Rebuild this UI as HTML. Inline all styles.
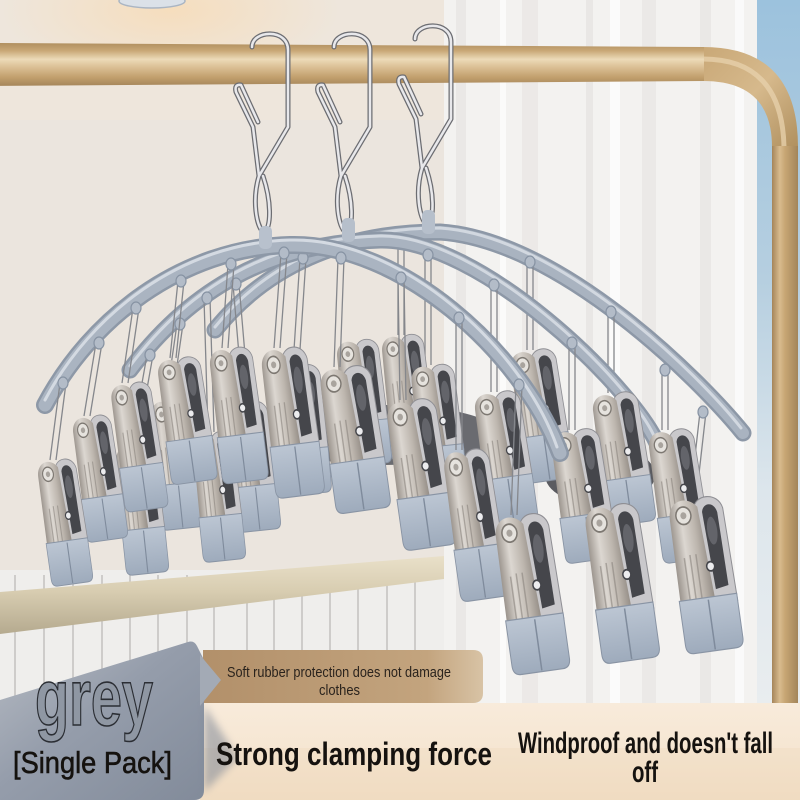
<!DOCTYPE html>
<html><head><meta charset="utf-8"><style>html,body{margin:0;padding:0;background:#ebe5de}svg{display:block}</style></head>
<body>
<svg width="800" height="800" viewBox="0 0 800 800" xmlns="http://www.w3.org/2000/svg">
<defs>
<linearGradient id="silv" x1="0" x2="1" y1="0" y2="0"><stop offset="0" stop-color="#9a938c"/><stop offset=".35" stop-color="#dcd7d1"/><stop offset=".7" stop-color="#bdb6ae"/><stop offset="1" stop-color="#958e87"/></linearGradient>
<linearGradient id="tipg" x1="0" y1="0" x2="0" y2="1"><stop offset="0" stop-color="#bcc6d3"/><stop offset="1" stop-color="#9eabbc"/></linearGradient>
<linearGradient id="sky" x1="0" y1="0" x2="0" y2="1"><stop offset="0" stop-color="#9cc2dd"/><stop offset=".4" stop-color="#b6cfe0"/><stop offset=".7" stop-color="#dde6ec"/><stop offset="1" stop-color="#e9edef"/></linearGradient>
<linearGradient id="bar" x1="0" y1="0" x2="0" y2="1"><stop offset="0" stop-color="#e9e0c9"/><stop offset=".45" stop-color="#d8cdb1"/><stop offset="1" stop-color="#b5aa8f"/></linearGradient>
<linearGradient id="rodh" x1="0" y1="0" x2="0" y2="1"><stop offset="0" stop-color="#b08f5f"/><stop offset=".18" stop-color="#c9a877"/><stop offset=".38" stop-color="#ecdab8"/><stop offset=".55" stop-color="#dcc197"/><stop offset=".8" stop-color="#c19f6d"/><stop offset="1" stop-color="#a5855a"/></linearGradient>
<linearGradient id="rodv" x1="0" y1="0" x2="1" y2="0"><stop offset="0" stop-color="#a5855a"/><stop offset=".3" stop-color="#d8bb8e"/><stop offset=".5" stop-color="#c7a674"/><stop offset="1" stop-color="#a3855a"/></linearGradient>
<linearGradient id="rodc" x1="0" y1="0" x2="1" y2="1"><stop offset="0" stop-color="#c9a877"/><stop offset=".5" stop-color="#d6b98c"/><stop offset="1" stop-color="#b0905f"/></linearGradient>
<linearGradient id="cream" x1="0" y1="0" x2="0" y2="1"><stop offset="0" stop-color="#f8ebdb"/><stop offset=".5" stop-color="#f6e6d2"/><stop offset="1" stop-color="#f1dcc2"/></linearGradient>
<linearGradient id="greyb" x1="0" y1="0" x2="1" y2="1"><stop offset="0" stop-color="#b6bbc3"/><stop offset=".45" stop-color="#959dab"/><stop offset="1" stop-color="#828b9a"/></linearGradient>
<linearGradient id="ban" x1="0" y1="0" x2="1" y2="0"><stop offset="0" stop-color="#b2906a"/><stop offset=".8" stop-color="#c3a47e"/><stop offset="1" stop-color="#d8c3a5"/></linearGradient>
<radialGradient id="glow" cx="0.5" cy="0.5" r="0.5"><stop offset="0" stop-color="#f7dcb8" stop-opacity=".85"/><stop offset="1" stop-color="#f7dcb8" stop-opacity="0"/></radialGradient>
<filter id="bl" x="-20%" y="-20%" width="140%" height="140%"><feGaussianBlur stdDeviation="4"/></filter>
<g id="clip">
  <path d="M0,10 C2,-3 26,-3 29,12 L31,92 L2,92 Z" fill="#c9c8cb" stroke="#8f8f94" stroke-width="1"/>
  <path d="M8,13 C10,5 21,5 23,15 L24,78 L11,80 Z" fill="#45464b"/>
  <ellipse cx="15.5" cy="30" rx="5" ry="12" fill="#63646a"/>
  <path d="M-25,16 C-25,0 -6,-4 4,8 L9,90 L-26,92 Z" fill="url(#silv)"/>
  <circle cx="-11" cy="14" r="7.5" fill="#e6e3de" stroke="#7d7872" stroke-width="1.5"/>
  <circle cx="-11" cy="14" r="3" fill="#a9a49e"/>
  <path d="M-16,50 L-16,88 M-10,48 L-10,88 M-4,48 L-4,88" stroke="#8b857f" stroke-width="1.5" opacity=".6"/>
  <circle cx="9" cy="60" r="4" fill="#ececee" stroke="#44454a" stroke-width="1.5"/>
  <path d="M-27,86 L31,86 L31,124 Q31,132 23,132 L-19,132 Q-27,132 -27,124 Z" fill="url(#tipg)" stroke="#8994a4" stroke-width="1"/>
  <path d="M2,88 L2,131" stroke="#7f8b9c" stroke-width="1.5"/>
</g>
<g id="hook">
  <path d="M252,47 C252,30 288,28 288,50 L288,127 L259,176 M259,176 C252,200 256,226 264,233 C272,226 271,200 263,176 M259,176 L253,127 L236,92 Q234,84 241,85 L258,122" fill="none" stroke="#6c6d72" stroke-width="5" stroke-linecap="round" stroke-linejoin="round"/>
  <path d="M252,47 C252,30 288,28 288,50 L288,127 L259,176 M259,176 C252,200 256,226 264,233 C272,226 271,200 263,176 M259,176 L253,127 L236,92 Q234,84 241,85 L258,122" fill="none" stroke="#e8e8eb" stroke-width="2.5" stroke-linecap="round" stroke-linejoin="round"/>
</g>
</defs>

<rect width="800" height="800" fill="#ebe5de"/>
<rect x="0" y="0" width="444" height="120" fill="#eee6dc"/>
<ellipse cx="170" cy="10" rx="170" ry="70" fill="url(#glow)"/>
<ellipse cx="152" cy="1" rx="33" ry="7" fill="#dbe1e8" stroke="#aab5c3" stroke-width="1.5"/>
<rect x="444" y="0" width="313" height="703" fill="#f3f2f0"/>
<rect x="456" y="0" width="10" height="703" fill="#e6e4e1" opacity=".7"/>
<rect x="500" y="0" width="6" height="703" fill="#fbfbfa"/>
<rect x="522" y="0" width="16" height="703" fill="#e8e6e3" opacity=".7"/>
<rect x="586" y="0" width="7" height="703" fill="#e4e2df" opacity=".7"/>
<rect x="610" y="0" width="10" height="703" fill="#fbfbfb"/>
<rect x="642" y="0" width="14" height="703" fill="#e7e5e2" opacity=".7"/>
<rect x="700" y="0" width="11" height="703" fill="#e6e4e1" opacity=".7"/>
<rect x="735" y="0" width="9" height="703" fill="#fafafa"/>
<rect x="757" y="0" width="43" height="703" fill="url(#sky)"/>

<rect x="0" y="570" width="444" height="133" fill="#efeeec"/>
<g stroke="#c6c4c1" stroke-width="1.6">
<path d="M15,575 V703 M44,575 V703 M73,575 V703 M102,575 V703 M130,575 V703 M158,575 V703 M187,575 V703 M214,575 V703 M247,575 V703 M274,575 V703 M302,575 V703 M330,575 V703 M358,575 V703 M387,575 V703 M415,575 V703"/>
</g>
<polygon points="0,592 444,556 444,579 0,634" fill="url(#bar)"/>

<!-- gold rod -->
<path d="M703,47 Q798,47 798,147 L772,147 Q772,81 703,81 Z" fill="url(#rodc)"/>
<path d="M703,59 Q782,59 784,147" fill="none" stroke="#e6d0aa" stroke-width="5" opacity=".8"/>
<rect x="772" y="146" width="26" height="559" fill="url(#rodv)"/>
<polygon points="-10,43 704,47 704,81 -10,86" fill="url(#rodh)"/>

<use href="#hook"/>
<use href="#hook" transform="translate(82,0)"/>
<use href="#hook" transform="translate(163,-8)"/>

<g fill="none" stroke-linecap="round">
<path d="M215,330 C265,268 340,232 440,232 C560,240 700,380 743,433" stroke="#8d98a7" stroke-width="17"/>
<path d="M215,330 C265,268 340,232 440,232 C560,240 700,380 743,433" stroke="#a9b3c0" stroke-width="12"/>
<path d="M215,327 C265,265 340,228 440,228 C560,236 700,376 741,428" stroke="#d2d8e0" stroke-width="3"/>
</g>
<rect x="422" y="210" width="13" height="24" rx="5" fill="#b6bfcb"/>
<g stroke="#85878c" stroke-width="1.3" fill="none">
<path d="M527,262 V350 M533,262 V350 M608,312 V393 M614,312 V393 M662,372 V430 M668,372 V430 M700,412 L690,500 M706,412 L696,500 M398,240 V335 M404,240 V335"/>
</g>
<g fill="#b3bcc8" stroke="#8793a3" stroke-width="1.2">
<ellipse cx="530" cy="262" rx="5" ry="6"/><ellipse cx="611" cy="312" rx="5" ry="6"/><ellipse cx="665" cy="370" rx="5" ry="6"/><ellipse cx="703" cy="412" rx="5" ry="6"/><ellipse cx="401" cy="240" rx="5" ry="6"/>
</g>

<g fill="none" stroke-linecap="round">
<path d="M130,370 C190,290 270,243 380,240 C480,238 630,385 657,443" stroke="#8d98a7" stroke-width="17"/>
<path d="M130,370 C190,290 270,243 380,240 C480,238 630,385 657,443" stroke="#a9b3c0" stroke-width="12"/>
<path d="M130,366 C190,286 270,239 380,236 C480,234 630,381 655,438" stroke="#d2d8e0" stroke-width="3"/>
</g>
<rect x="342" y="218" width="13" height="24" rx="5" fill="#b6bfcb"/>

<ellipse cx="385" cy="435" rx="115" ry="30" fill="#6a6b70"/>
<ellipse cx="600" cy="475" rx="55" ry="30" fill="#5a5b60"/>

<g stroke="#85878c" stroke-width="1.3" fill="none">
<path d="M147,355 L131,445 M153,355 L137,445 M177,324 L166,400 M183,324 L172,400 M204,298 L208,432 M210,298 L214,432 M233,284 L243,402 M239,284 L249,402 M300,258 L293,365 M306,258 L299,365 M425,255 V365 M431,255 V365 M491,285 V392 M497,285 V392 M569,343 V430 M575,343 V430 M631,411 L606,505 M637,411 L612,505"/>
</g>
<g fill="#b3bcc8" stroke="#8793a3" stroke-width="1.2">
<ellipse cx="150" cy="355" rx="5" ry="6"/><ellipse cx="180" cy="324" rx="5" ry="6"/><ellipse cx="207" cy="298" rx="5" ry="6"/><ellipse cx="236" cy="284" rx="5" ry="6"/><ellipse cx="303" cy="258" rx="5" ry="6"/><ellipse cx="428" cy="255" rx="5" ry="6"/><ellipse cx="494" cy="285" rx="5" ry="6"/><ellipse cx="572" cy="343" rx="5" ry="6"/><ellipse cx="634" cy="411" rx="5" ry="6"/>
</g>

<use href="#clip" transform="translate(400,335) rotate(-6) scale(.78,.95)"/>
<use href="#clip" transform="translate(530,350) rotate(-8) scale(.85,1)"/>
<use href="#clip" transform="translate(612,393) rotate(-8) scale(.85,1)"/>
<use href="#clip" transform="translate(668,430) rotate(-8) scale(.85,1)"/>
<use href="#clip" transform="translate(355,340) rotate(-6) scale(.78,.95)"/>
<use href="#clip" transform="translate(430,365) rotate(-6) scale(.8,.95)"/>
<use href="#clip" transform="translate(494,392) rotate(-8) scale(.85,1)"/>
<use href="#clip" transform="translate(572,430) rotate(-8) scale(.9,1)"/>
<use href="#clip" transform="translate(296,365) rotate(-5) scale(.8,.98)"/>
<use href="#clip" transform="translate(245,402) rotate(-6) scale(.74,.98)"/>
<use href="#clip" transform="translate(168,400) rotate(-6) scale(.74,.98)"/>
<use href="#clip" transform="translate(210,432) rotate(-6) scale(.74,.98)"/>
<use href="#clip" transform="translate(133,445) rotate(-6) scale(.74,.98)"/>
<use href="#clip" transform="translate(608,505) rotate(-8) scale(1,1.19)"/>
<use href="#clip" transform="translate(692,498) rotate(-8) scale(1,1.17)"/>

<g fill="none" stroke-linecap="round">
<path d="M45,405 C90,320 180,248 290,245 C400,242 522,352 560,453" stroke="#8d98a7" stroke-width="18"/>
<path d="M45,405 C90,320 180,248 290,245 C400,242 522,352 560,453" stroke="#aab4c1" stroke-width="13"/>
<path d="M45,400 C90,315 180,243 290,240 C400,237 522,347 557,447" stroke="#d4dae2" stroke-width="3"/>
</g>
<rect x="259" y="226" width="13" height="23" rx="5" fill="#b8c1cd"/>
<g stroke="#85878c" stroke-width="1.3" fill="none">
<path d="M60,383 L50,460 M66,383 L56,460 M96,343 L84,416 M102,343 L90,416 M133,308 L122,383 M139,308 L128,383 M178,281 L170,358 M184,281 L176,358 M228,264 L222,348 M234,264 L228,348 M281,253 L274,348 M287,253 L280,348 M338,258 L334,367 M344,258 L340,367 M398,278 L400,400 M404,278 L406,400 M456,318 V450 M462,318 V450 M516,385 L511,515 M522,385 L517,515"/>
</g>
<g fill="#b3bcc8" stroke="#8793a3" stroke-width="1.2">
<ellipse cx="63" cy="383" rx="5" ry="6"/><ellipse cx="99" cy="343" rx="5" ry="6"/><ellipse cx="136" cy="308" rx="5" ry="6"/><ellipse cx="181" cy="281" rx="5" ry="6"/><ellipse cx="231" cy="264" rx="5" ry="6"/><ellipse cx="284" cy="253" rx="5" ry="6"/><ellipse cx="341" cy="258" rx="5" ry="6"/><ellipse cx="401" cy="278" rx="5" ry="6"/><ellipse cx="459" cy="318" rx="5" ry="6"/><ellipse cx="519" cy="385" rx="5" ry="6"/>
</g>

<use href="#clip" transform="translate(281,348) rotate(-7) scale(.85,1.13)"/>
<use href="#clip" transform="translate(228,348) rotate(-7) scale(.8,1.02)"/>
<use href="#clip" transform="translate(342,367) rotate(-8) scale(.95,1.1)"/>
<use href="#clip" transform="translate(176,358) rotate(-8) scale(.8,.95)"/>
<use href="#clip" transform="translate(408,400) rotate(-8) scale(.92,1.13)"/>
<use href="#clip" transform="translate(128,383) rotate(-8) scale(.75,.97)"/>
<use href="#clip" transform="translate(463,450) rotate(-8) scale(.85,1.14)"/>
<use href="#clip" transform="translate(89,416) rotate(-8) scale(.72,.95)"/>
<use href="#clip" transform="translate(518,515) rotate(-8) scale(1,1.2)"/>
<use href="#clip" transform="translate(54,460) rotate(-8) scale(.72,.95)"/>

<rect x="200" y="703" width="600" height="97" fill="url(#cream)"/>
<rect x="200" y="748" width="600" height="52" fill="#f0dbc0" opacity=".45"/>
<path d="M203,650 L473,650 Q483,650 483,660 L483,693 Q483,703 473,703 L203,703 Z" fill="url(#ban)"/>
<path d="M0,700 L188,642 Q194,640 197,646 L204,660 L204,790 Q204,800 194,800 L0,800 Z" fill="url(#greyb)"/>
<path d="M200,655 L221,680 L200,706 Z" fill="#a3aab5"/>
<path d="M204,705 L238,758 L204,792 Z" fill="#7f8897" opacity=".55" filter="url(#bl)"/>

<g font-family="'Liberation Sans Narrow','Liberation Sans',sans-serif">
<text x="227" y="677" font-size="15" fill="#2a231d" textLength="224" lengthAdjust="spacingAndGlyphs">Soft rubber protection does not damage</text>
<text x="319" y="695" font-size="15" fill="#2a231d" textLength="41" lengthAdjust="spacingAndGlyphs">clothes</text>
<text x="35" y="725" font-size="80" font-weight="bold" fill="#8f97a3" stroke="#2b2e34" stroke-width="1.6" textLength="118" lengthAdjust="spacingAndGlyphs">grey</text>
<text x="13" y="773" font-size="31" fill="#15120f" stroke="#15120f" stroke-width=".6" textLength="159" lengthAdjust="spacingAndGlyphs">[Single Pack]</text>
<text x="216" y="765" font-size="32" font-weight="bold" fill="#15120f" textLength="276" lengthAdjust="spacingAndGlyphs">Strong clamping force</text>
<text x="518" y="753" font-size="30" font-weight="bold" fill="#15120f" textLength="255" lengthAdjust="spacingAndGlyphs">Windproof and doesn't fall</text>
<text x="632" y="782" font-size="30" font-weight="bold" fill="#15120f" textLength="26" lengthAdjust="spacingAndGlyphs">off</text>
</g>
</svg>
</body></html>
